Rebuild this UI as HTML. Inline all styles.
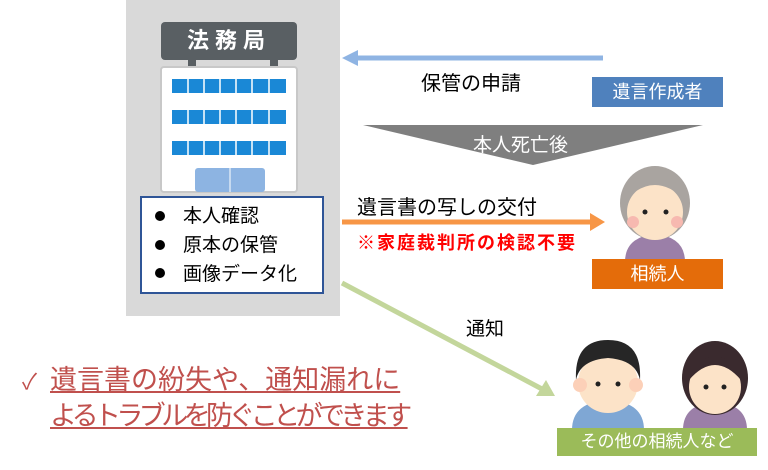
<!DOCTYPE html>
<html><head><meta charset="utf-8"><style>
body{margin:0;width:768px;height:470px;background:#fff;position:relative;overflow:hidden;font-family:"Liberation Sans","Noto Sans CJK JP",sans-serif}
.a{position:absolute;white-space:nowrap}
</style></head><body>
<svg class="a" style="left:0;top:0" width="768" height="470">
<rect x="126" y="0" width="214" height="316" fill="#d9d9d9"/>
<rect x="161" y="22" width="136" height="38" rx="4" fill="#595f63"/>
<rect x="188" y="60" width="8" height="7" fill="#595f63"/><rect x="270" y="60" width="8" height="7" fill="#595f63"/>
<rect x="161" y="67" width="136" height="125" rx="3" fill="#fff" stroke="#c8c8c8" stroke-width="2"/>
<g fill="#1a88d6">
<rect x="172" y="79" width="114" height="14"/><rect x="172" y="110" width="114" height="14"/><rect x="172" y="141" width="114" height="14"/>
</g>
<g stroke="#fff" stroke-width="1.5">
<path d="M188 78v78M204 78v78M220 78v78M236 78v78M252 78v78M269 78v78"/>
</g>
<rect x="195" y="168" width="70" height="24" rx="3" fill="#8db4e2"/><path d="M230 168v24" stroke="#fff"/>
<rect x="141" y="197" width="182" height="96" fill="#fff" stroke="#2f5597" stroke-width="2"/>
<g fill="#000"><circle cx="160" cy="216" r="5"/><circle cx="160" cy="245" r="5"/><circle cx="160" cy="273" r="5"/></g>
<line x1="603" y1="58" x2="355" y2="58" stroke="#8fb4e3" stroke-width="5"/>
<polygon points="342,58 358,50 358,66" fill="#8fb4e3"/>
<rect x="592" y="77" width="131" height="30" fill="#4f81bd"/>
<polygon points="363,125 703,125 533,165" fill="#7f7f7f"/>
<line x1="342" y1="222" x2="592" y2="222" stroke="#f79646" stroke-width="5"/>
<polygon points="605,222 590,213 590,231" fill="#f79646"/>
<line x1="342" y1="283" x2="542" y2="389" stroke="#c3d69b" stroke-width="5"/>
<polygon points="555,396 536,396 546,380" fill="#c3d69b"/>
<path d="M625 262q0-25 30-28q30 3 30 28z" fill="#9b7fa8"/>
<ellipse cx="655" cy="203" rx="35" ry="37" fill="#a9a4a0"/>
<ellipse cx="655" cy="212" rx="28" ry="28" fill="#fce3c8"/>
<path d="M625 200q30-30 60 0q-10-28-30-28q-20 0-30 28z" fill="#a9a4a0"/>
<circle cx="645" cy="212" r="2.5" fill="#222"/><circle cx="666" cy="212" r="2.5" fill="#222"/>
<circle cx="633" cy="222" r="6" fill="#f7b9b0"/><circle cx="677" cy="222" r="6" fill="#f7b9b0"/>
<rect x="592" y="259" width="131" height="30" fill="#e46c0a"/>
<path d="M572 430q0-28 36-30q36 2 36 30z" fill="#7fa7d4"/>
<ellipse cx="608" cy="383" rx="30" ry="30" fill="#fce3c8"/>
<path d="M576 380q-2-40 32-40q34 0 32 40q-4-20-32-22q-28 2-32 22z" fill="#262626"/>
<circle cx="598" cy="384" r="2.5" fill="#222"/><circle cx="618" cy="384" r="2.5" fill="#222"/>
<circle cx="580" cy="385" r="7" fill="#fcd0b8"/><circle cx="636" cy="385" r="7" fill="#fcd0b8"/>
<path d="M683 430q0-26 32-28q32 2 32 28z" fill="#9b7fa8"/>
<ellipse cx="715" cy="378" rx="33" ry="37" fill="#3a2a2e"/>
<ellipse cx="715" cy="387" rx="26" ry="27" fill="#fce3c8"/>
<path d="M689 380q26-30 52 0q-6-22-26-24q-20 2-26 24z" fill="#3a2a2e"/>
<circle cx="706" cy="387" r="2.5" fill="#222"/><circle cx="724" cy="387" r="2.5" fill="#222"/>
<rect x="557" y="428" width="200" height="28" fill="#9bbb59"/>
</svg>
<div class="a" style="left:161px;top:22px;width:136px;line-height:38px;text-align:center;color:#fff;font-weight:bold;font-size:22px;letter-spacing:6px">法務局</div>
<div class="a" style="left:183px;top:202px;font-size:19px;line-height:29px">本人確認<br>原本の保管<br>画像データ化</div>
<div class="a" style="left:421px;top:67px;font-size:20px">保管の申請</div>
<div class="a" style="left:592px;top:77px;width:131px;line-height:30px;text-align:center;color:#fff;font-size:18px">遺言作成者</div>
<div class="a" style="left:473px;top:130px;color:#fff;font-size:19px">本人死亡後</div>
<div class="a" style="left:357px;top:191px;font-size:20px">遺言書の写しの交付</div>
<div class="a" style="left:357px;top:229px;font-size:18px;letter-spacing:2px;font-weight:bold;color:#f00">※家庭裁判所の検認不要</div>
<div class="a" style="left:592px;top:259px;width:131px;line-height:30px;text-align:center;color:#fff;font-size:18px">相続人</div>
<div class="a" style="left:466px;top:314px;font-size:19px">通知</div>
<div class="a" style="left:557px;top:428px;width:200px;line-height:28px;text-align:center;color:#fff;font-size:17px">その他の相続人など</div>
<div class="a" style="left:22px;top:364px;font-size:22px;color:#c0504d">✓</div>
<div class="a" style="left:50px;top:362px;font-size:27px;line-height:36px;color:#c0504d;text-decoration:underline">遺言書の紛失や、通知漏れに<br><span style="letter-spacing:-4.6px">よるトラブルを防ぐことができます</span></div>
</body></html>
